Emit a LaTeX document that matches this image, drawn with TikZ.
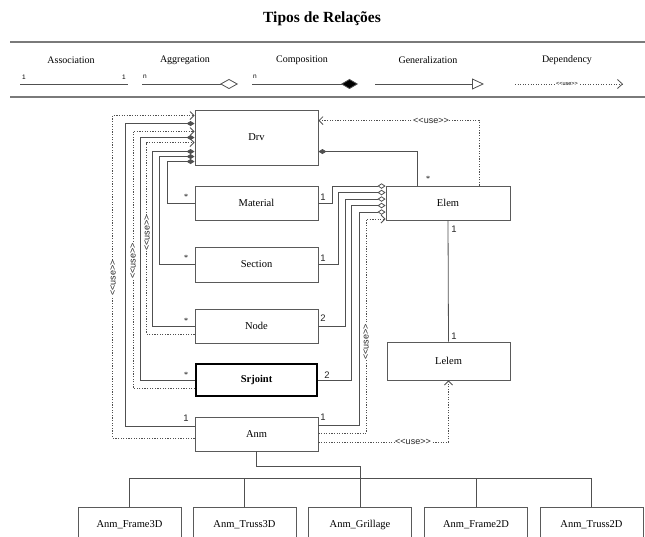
\documentclass[tikz,border=0pt]{standalone}
\usepackage{fontspec}
\setmainfont{Liberation Serif}
\setsansfont{Liberation Sans}
\usetikzlibrary{arrows.meta,calc}
\definecolor{lncol}{HTML}{505050}
\definecolor{boxcol}{HTML}{5A5A5A}
\definecolor{rulecol}{HTML}{7A7A7A}
\newcommand\usetxt{<\kern0pt<use>\kern0pt>}
\begin{document}
\begin{tikzpicture}[x=1pt,y=-1pt,
  box/.style={draw=boxcol, line width=0.9pt, rectangle, minimum width=123pt, minimum height=34pt, inner sep=0pt, font=\fontsize{10.5}{12}\selectfont},
  lnk/.style={draw=lncol, line width=0.8pt},
  dep/.style={draw=lncol, line width=0.8pt, dash pattern=on 1.2pt off 1.4pt},
  compo/.style={lnk, -{Diamond[length=8pt,width=5pt,fill=lncol]}},
  aggr/.style={lnk, -{Diamond[open,length=8pt,width=5.5pt,fill=white]}},
  deparr/.style={dep, -{Straight Barb[length=4pt,width=8pt,line width=0.8pt]}},
  mult/.style={font=\sffamily\fontsize{9.5}{10}\selectfont, inner sep=0pt, text=black!85},
  star/.style={font=\fontsize{8}{9}\selectfont, inner sep=0pt},
  uselbl/.style={font=\sffamily\fontsize{9}{10}\selectfont, inner sep=0.6pt, fill=white, text=black!85},
  leglbl/.style={font=\fontsize{10}{12}\selectfont, inner sep=0pt},
  legsmall/.style={font=\sffamily\fontsize{6.5}{7}\selectfont, inner sep=0pt},
  rulel/.style={draw=rulecol, line width=1.3pt}
]
\path[use as bounding box] (0,0) rectangle (645,537);
\clip (0,0) rectangle (645,537);

% ---------- title and legend ----------
\node[font=\bfseries\fontsize{15.5}{18}\selectfont, inner sep=0pt] (title) at (322,19) {Tipos de Relações};
\coordinate (r1a) at (10,42); \coordinate (r1b) at (645,42);
\coordinate (r2a) at (10,97); \coordinate (r2b) at (645,97);
\draw[rulel] (r1a) -- (r1b);
\draw[rulel] (r2a) -- (r2b);

\node[leglbl] (lasso) at (71,60) {Association};
\node[leglbl] (laggr) at (185,60) {Aggregation};
\node[leglbl] (lcomp) at (302,60) {Composition};
\node[leglbl] (lgen) at (428,60) {Generalization};
\node[leglbl] (ldep) at (567,60) {Dependency};

\coordinate (as1) at (20,84); \coordinate (as2) at (128,84);
\draw[lnk] (as1) -- (as2);
\node[legsmall] (as1l) at (24,77) {1};
\node[legsmall] (as2l) at (124,77) {1};

\coordinate (ag1) at (142,84); \coordinate (ag2) at (238,84);
\draw[lnk, -{Diamond[open,length=18pt,width=10pt,fill=white]}] (ag1) -- (ag2);
\node[legsmall] (ag1l) at (145,77) {n};

\coordinate (cp1) at (252,84); \coordinate (cp2) at (358,84);
\draw[lnk, -{Diamond[length=17pt,width=10pt,fill=black]}] (cp1) -- (cp2);
\node[legsmall] (cp1l) at (255,77) {n};

\coordinate (ge1) at (375,84); \coordinate (ge2) at (484,84);
\draw[lnk, -{Triangle[open,length=12pt,width=11pt,fill=white]}] (ge1) -- (ge2);

\coordinate (de1) at (515,84); \coordinate (de2) at (623,84);
\draw[dep, dash pattern=on 1pt off 1.6pt, -{Straight Barb[length=5pt,width=9pt,line width=0.8pt]}] (de1) -- (de2);
\node[font=\sffamily\fontsize{5.5}{6}\selectfont, inner sep=0.5pt, fill=white] (deu) at (567,84) {\usetxt};

% ---------- boxes ----------
\node[box, minimum height=55pt] (drv) at (256.5,137.5) {Drv};
\node[box] (material) at (256.5,203) {Material};
\node[box, minimum height=35pt] (section) at (256.5,264.5) {Section};
\node[box] (nodeb) at (256.5,326) {Node};
\node[box, draw=black, line width=2.2pt, minimum width=121pt, minimum height=32pt, font=\bfseries\fontsize{10.5}{12}\selectfont] (srjoint) at (256.5,380) {Srjoint};
\node[box] (anm) at (256.5,434) {Anm};
\node[box, minimum width=124pt] (elem) at (448,203) {Elem};
\node[box, minimum height=38pt] (lelem) at (448.5,361) {Lelem};

\node[box, minimum width=103pt, minimum height=36pt] (f3) at (129.5,525) {Anm\_Frame3D};
\node[box, minimum width=103pt, minimum height=36pt] (t3) at (244.5,525) {Anm\_Truss3D};
\node[box, minimum width=103pt, minimum height=36pt] (gr) at (360,525) {Anm\_Grillage};
\node[box, minimum width=103pt, minimum height=36pt] (f2) at (476,525) {Anm\_Frame2D};
\node[box, minimum width=103pt, minimum height=36pt] (t2) at (591.5,525) {Anm\_Truss2D};

% ---------- connectors into Drv (left side) ----------
\draw[deparr] ($(anm.west)+(0,4)$) -- ++(-82,0) |- ($(drv.north west)+(0,6)$);
\draw[compo] ($(anm.west)+(0,-8)$) -- ++(-69,0) |- ($(drv.north west)+(0,14)$);
\draw[deparr] ($(srjoint.west)+(0,8)$) -- ++(-62,0) |- ($(drv.north west)+(0,22)$);
\draw[compo] (srjoint.west) -- ++(-55,0) |- ($(drv.north west)+(0,28)$);
\draw[deparr] ($(nodeb.west)+(0,8)$) -- ++(-48,0) |- ($(drv.north west)+(0,33)$);
\draw[compo] (nodeb.west) -- ++(-42,0) |- ($(drv.north west)+(0,42)$);
\draw[compo] (section.west) -- ++(-35,0) |- ($(drv.north west)+(0,47)$);
\draw[compo] (material.west) -- ++(-27,0) |- ($(drv.north west)+(0,52)$);

\node[uselbl, rotate=90] (u1) at (113,278) {\usetxt};
\node[uselbl, rotate=90] (u2) at (133,261) {\usetxt};
\node[uselbl, rotate=90] (u3) at (147,233) {\usetxt};

% ---------- Drv right side ----------
\draw[deparr] ($(elem.north)+(31,0)$) |- ($(drv.north east)+(0,11)$);
\node[uselbl] (u4) at (431,121) {\usetxt};
\draw[compo] ($(elem.north)+(-31,0)$) |- ($(drv.north east)+(0,42)$);
\node[star] (s6) at (428,179) {*};

% ---------- connectors into Elem (left side) ----------
\draw[aggr] (material.east) -- ++(14,0) |- ($(elem.north west)+(0,0.5)$);
\draw[aggr] (section.east) -- ++(20,0) |- ($(elem.north west)+(0,7)$);
\draw[aggr] (nodeb.east) -- ++(27,0) |- ($(elem.north west)+(0,13.5)$);
\draw[aggr] (srjoint.east) -- ++(33.5,0) |- ($(elem.north west)+(0,20)$);
\draw[aggr] ($(anm.east)+(0,-9)$) -- ++(41,0) |- ($(elem.north west)+(0,26.5)$);
\draw[deparr] ($(anm.east)+(0,-1)$) -- ++(48,0) |- ($(elem.north west)+(0,33.5)$);
\node[uselbl, rotate=90] (u5) at (366,342) {\usetxt};

% ---------- Elem / Lelem ----------
\draw[lnk] (elem.south) -- (lelem.north);
\draw[deparr] ($(anm.east)+(0,8)$) -| (lelem.south);
\node[uselbl] (u6) at (413,442) {\usetxt};

% ---------- multiplicities ----------
\node[star] (s1) at (186,197) {*};
\node[star] (s2) at (186,258) {*};
\node[star] (s3) at (186,321) {*};
\node[star] (s4) at (186,375) {*};
\node[mult] (m1) at (186,418) {1};
\node[mult] (m2) at (323,197) {1};
\node[mult] (m3) at (323,258) {1};
\node[mult] (m4) at (323,318) {2};
\node[mult] (m5) at (327,375) {2};
\node[mult] (m6) at (323,417) {1};
\node[mult] (m7) at (454,229) {1};
\node[mult] (m8) at (454,336) {1};

% ---------- generalization tree ----------
\draw[lnk] (anm.south) -- ++(0,15) -| (gr.north);
\draw[lnk] (f3.north) -- ++(0,-28) -| (t2.north);
\draw[lnk] (t3.north) -- ++(0,-28);
\draw[lnk] (f2.north) -- ++(0,-28);
\end{tikzpicture}
\end{document}
